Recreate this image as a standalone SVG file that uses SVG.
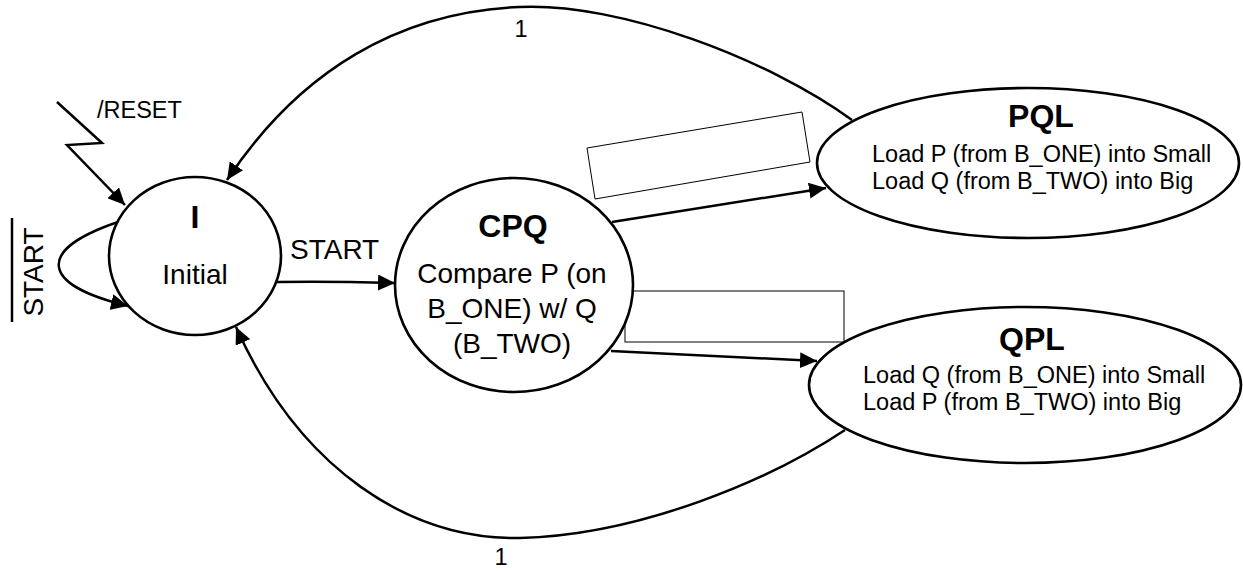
<svg xmlns="http://www.w3.org/2000/svg" width="1243" height="571" viewBox="0 0 1243 571">
  <style>
    .state { fill: #fff; stroke: #000; stroke-width: 2.6; }
    .edge { fill: none; stroke: #000; stroke-width: 2.5; marker-end: url(#head); }
    .box { fill: #fff; stroke: #000; stroke-width: 1; }
    text { font-family: "Liberation Sans", Arial, sans-serif; fill: #000; }
    .title { font-size: 32px; font-weight: bold; text-anchor: middle; }
    .body { font-size: 28px; text-anchor: middle; }
    .small { font-size: 23.5px; }
  </style>
  <defs>
    <marker id="head" markerUnits="userSpaceOnUse" markerWidth="18" markerHeight="16" refX="17" refY="8" orient="auto">
      <path d="M0,0 L17,8 L0,16 z" fill="#000"/>
    </marker>
  </defs>

  <!-- transitions -->
  <g id="connectors">
    <!-- reset lightning -->
    <polyline class="edge" points="57,102 102,143 67,145 125,205"/>
    <!-- self loop on I -->
    <path class="edge" d="M118,222 C35,250 40,285 128,306"/>
    <!-- I -> CPQ -->
    <path class="edge" d="M277,282 C320,281 360,282 395,283"/>
    <!-- CPQ -> PQL -->
    <path class="edge" d="M612,222 L826,188"/>
    <!-- CPQ -> QPL -->
    <path class="edge" d="M611,351 L817,361"/>
    <!-- PQL -> I -->
    <path class="edge" d="M852,120 C770,60 620,2 519,7 C400,12 300,70 227,180"/>
    <!-- QPL -> I -->
    <path class="edge" d="M845,430 C770,480 640,535 520,538 C410,540 300,470 236,327"/>
  </g>

  <!-- transition labels -->
  <g id="labels">
    <text class="small" x="97" y="118">/RESET</text>
    <text font-size="28" x="290" y="259">START</text>
    <text font-size="28" text-anchor="middle" transform="translate(43,272) rotate(-90)">START</text>
    <line x1="12" y1="218" x2="12" y2="322" stroke="#000" stroke-width="2.5"/>
    <text class="small" x="521" y="37" text-anchor="middle">1</text>
    <text class="small" x="501" y="565" text-anchor="middle">1</text>
  </g>

  <!-- empty boxes -->
  <g id="boxes">
    <polygon class="box" points="587,148 802,112 810,162 595,199"/>
    <rect class="box" x="625" y="291" width="219" height="51"/>
  </g>

  <g id="state-I">
    <ellipse class="state" cx="195" cy="256" rx="86" ry="79"/>
    <text class="title" x="195" y="228">I</text>
    <text class="body" x="195" y="284">Initial</text>
  </g>

  <g id="state-CPQ">
    <ellipse class="state" cx="514" cy="285" rx="119" ry="107"/>
    <text class="title" x="513" y="237">CPQ</text>
    <text class="body" x="512" y="283">Compare P (on</text>
    <text class="body" x="512" y="318">B_ONE) w/ Q</text>
    <text class="body" x="512" y="353">(B_TWO)</text>
  </g>

  <g id="state-PQL">
    <ellipse class="state" cx="1028" cy="163" rx="211" ry="75"/>
    <text class="title" x="1041" y="127">PQL</text>
    <text class="small" x="872" y="162">Load P (from B_ONE) into Small</text>
    <text class="small" x="872" y="189">Load Q (from B_TWO) into Big</text>
  </g>

  <g id="state-QPL">
    <ellipse class="state" cx="1025" cy="385" rx="216" ry="78"/>
    <text class="title" x="1032" y="350">QPL</text>
    <text class="small" x="863" y="383">Load Q (from B_ONE) into Small</text>
    <text class="small" x="863" y="410">Load P (from B_TWO) into Big</text>
  </g>
</svg>
